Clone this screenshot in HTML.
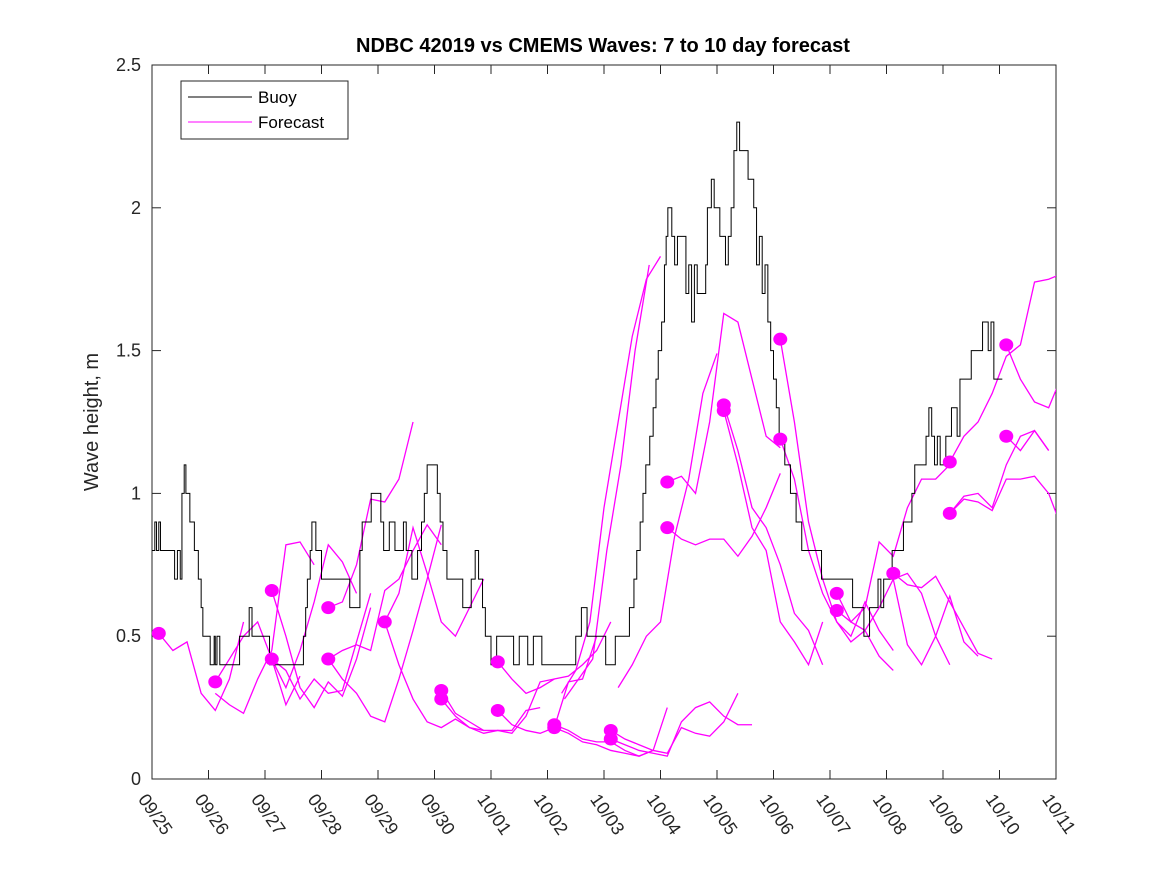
<!DOCTYPE html>
<html><head><meta charset="utf-8"><style>
body{margin:0;background:#fff;}
svg text{font-family:"Liberation Sans",sans-serif;}
</style></head><body>
<svg width="1167" height="875" viewBox="0 0 1167 875">
<defs><clipPath id="pc"><rect x="152" y="65" width="904" height="714"/></clipPath></defs>
<rect x="0" y="0" width="1167" height="875" fill="#fff"/>
<g id="plot"></g>
</svg>
<script>
const dayLabels=["09/25","09/26","09/27","09/28","09/29","09/30","10/01","10/02","10/03","10/04","10/05","10/06","10/07","10/08","10/09","10/10","10/11"];
const yTicks=[0,0.5,1,1.5,2,2.5];
const buoyT=[0,0.05,0.08,0.12,0.15,0.4,0.45,0.5,0.53,0.57,0.6,0.67,0.75,0.82,0.87,0.9,1.03,1.1,1.12,1.15,1.2,1.3,1.55,1.72,1.77,1.8,2.08,2.68,2.72,2.75,2.8,2.83,2.9,2.95,3.0,3.15,3.5,3.68,3.72,3.88,4.05,4.1,4.2,4.3,4.45,4.5,4.6,4.7,4.77,4.82,4.87,4.95,5.05,5.1,5.15,5.22,5.3,5.5,5.65,5.72,5.78,5.85,5.9,6.0,6.1,6.4,6.5,6.65,6.75,6.9,7.0,7.5,7.6,7.7,7.8,8.03,8.2,8.45,8.53,8.58,8.64,8.69,8.74,8.81,8.87,8.92,8.96,9.02,9.07,9.1,9.13,9.2,9.25,9.3,9.45,9.5,9.55,9.6,9.65,9.8,9.83,9.9,9.95,10.05,10.15,10.2,10.25,10.3,10.35,10.4,10.55,10.65,10.7,10.75,10.8,10.85,10.9,10.95,11.0,11.05,11.1,11.2,11.3,11.4,11.5,11.6,11.85,12.15,12.4,12.6,12.7,12.85,12.9,12.95,13.0,13.1,13.3,13.45,13.5,13.7,13.75,13.8,13.85,13.9,13.95,14.05,14.15,14.25,14.3,14.5,14.7,14.8,14.85,14.9,14.95,15.05,15.2];
const buoyV=[0.8,0.9,0.8,0.9,0.8,0.7,0.8,0.7,1.0,1.1,1.0,0.9,0.8,0.7,0.6,0.5,0.4,0.5,0.4,0.5,0.4,0.4,0.5,0.6,0.5,0.5,0.4,0.5,0.6,0.7,0.8,0.9,0.8,0.8,0.7,0.7,0.6,0.8,0.9,1.0,0.9,0.8,0.9,0.8,0.9,0.8,0.7,0.8,0.9,1.0,1.1,1.1,1.0,0.9,0.8,0.7,0.7,0.6,0.7,0.8,0.7,0.6,0.5,0.4,0.5,0.4,0.5,0.4,0.5,0.4,0.4,0.5,0.6,0.5,0.5,0.4,0.5,0.6,0.7,0.8,0.9,1.0,1.1,1.2,1.3,1.4,1.5,1.6,1.8,1.9,2.0,1.9,1.8,1.9,1.7,1.8,1.6,1.8,1.7,1.8,2.0,2.1,2.0,1.9,1.8,1.9,2.0,2.2,2.3,2.2,2.1,2.0,1.8,1.9,1.7,1.8,1.6,1.5,1.4,1.3,1.2,1.1,1.0,0.9,0.8,0.8,0.7,0.7,0.6,0.5,0.6,0.7,0.6,0.7,0.7,0.8,0.9,1.0,1.1,1.2,1.3,1.2,1.1,1.2,1.1,1.2,1.3,1.2,1.4,1.5,1.6,1.5,1.6,1.4,1.4];
const fcStart=[0.12,1.12,1.12,2.12,2.12,2.12,3.12,3.12,3.12,4.12,4.12,5.12,5.12,6.12,6.12,7.12,7.12,7.25,7.3,8.25,8.12,8.12,9.12,9.12,10.12,10.12,11.12,11.12,12.12,12.12,13.12,13.12,14.12,14.12,14.12,15.12,15.12];
const fcVals=[
[0.51,0.45,0.48,0.30,0.24,0.35,0.55],
[0.34,0.42,0.50,0.55,0.42,0.26,0.36],
[0.30,0.26,0.23,0.35,0.45,0.82,0.83,0.75],
[0.66,0.50,0.32,0.25,0.34,0.29,0.42,0.60],
[0.42,0.38,0.28,0.35,0.30,0.31,0.48,0.65],
[0.42,0.32,0.45,0.62,0.82,0.76,0.65],
[0.60,0.62,0.75,0.98,0.97,1.05,1.25],
[0.42,0.45,0.47,0.45,0.66,0.70,0.80,0.89,0.82],
[0.42,0.35,0.30,0.22,0.20,0.35,0.52,0.70,0.89],
[0.55,0.65,0.88,0.72,0.55,0.50,0.60,0.70],
[0.55,0.40,0.28,0.20,0.18,0.21,0.18,0.17],
[0.31,0.23,0.20,0.17,0.17,0.16,0.22,0.34,0.35],
[0.28,0.22,0.18,0.16,0.17,0.17,0.24,0.25],
[0.41,0.35,0.30,0.32,0.35,0.36,0.40,0.45,0.55],
[0.24,0.19,0.17,0.16,0.18,0.34,0.35,0.50],
[0.19,0.17,0.14,0.13,0.13,0.10,0.08,0.10],
[0.18,0.16,0.13,0.12,0.10,0.09,0.08,0.10,0.25],
[0.30,0.38,0.55,0.95,1.25,1.55,1.75,1.83],
[0.28,0.35,0.42,0.80,1.10,1.50,1.80],
[0.32,0.40,0.50,0.55,0.85,1.05,1.35,1.49],
[0.17,0.14,0.12,0.10,0.09,0.18,0.16,0.15,0.20,0.30],
[0.14,0.12,0.10,0.09,0.08,0.20,0.25,0.27,0.22,0.19,0.19],
[1.04,1.06,1.00,1.25,1.63,1.60,1.40,1.20,1.16],
[0.88,0.84,0.82,0.84,0.84,0.78,0.85,0.95,1.07],
[1.31,1.15,0.95,0.88,0.75,0.58,0.52,0.40],
[1.29,1.10,0.88,0.80,0.55,0.48,0.40,0.55],
[1.54,1.25,0.90,0.70,0.55,0.50,0.62,0.52,0.45],
[1.19,1.05,0.80,0.65,0.55,0.48,0.52,0.43,0.38],
[0.65,0.55,0.60,0.83,0.78,0.95,1.05,1.05,1.10],
[0.59,0.55,0.52,0.60,0.70,0.72,0.65,0.50,0.40],
[0.72,0.68,0.67,0.71,0.62,0.53,0.44,0.42],
[0.70,0.47,0.40,0.50,0.64,0.48,0.43],
[1.11,1.20,1.25,1.35,1.48,1.52,1.74,1.75,1.77,1.75],
[0.93,0.98,0.97,0.94,1.05,1.05,1.06,1.00,0.87],
[0.93,0.99,1.00,0.95,1.10,1.20,1.22,1.15],
[1.52,1.40,1.32,1.30,1.42],
[1.20,1.15,1.22,1.15]];
const fcStep=0.25;
const dotDays=[0.12,1.12,2.12,2.12,3.12,3.12,4.12,5.12,5.12,6.12,6.12,7.12,7.12,8.12,8.12,9.12,9.12,10.12,10.12,11.12,11.12,12.12,12.12,13.12,14.12,14.12,15.12,15.12];
const dotVals=[0.51,0.34,0.66,0.42,0.60,0.42,0.55,0.31,0.28,0.41,0.24,0.19,0.18,0.17,0.14,1.04,0.88,1.31,1.29,1.54,1.19,0.65,0.59,0.72,1.11,0.93,1.52,1.20];

const X0=152,X1=1056,Y0=779,Y1=65;
const xs=d=>X0+(X1-X0)*d/16;
const ys=v=>Y0-(Y0-Y1)*v/2.5;
const NS="http://www.w3.org/2000/svg";
const g=document.getElementById('plot');
function mk(tag,at,parent){const e=document.createElementNS(NS,tag);for(const k in at)e.setAttribute(k,at[k]);(parent||g).appendChild(e);return e;}

let r=mk('rect',{x:X0,y:Y1,width:X1-X0,height:Y0-Y1,fill:'#fff',stroke:'#262626','stroke-width':1});



dayLabels.forEach((lab,i)=>{
  const x=xs(i);
  let t=mk('line',{x1:x,y1:Y0,x2:x,y2:Y0-9,stroke:'#262626'});
  
  
  let t2=mk('line',{x1:x,y1:Y1,x2:x,y2:Y1+9,stroke:'#262626'});
  
  
  let tx=mk('text',{x:x-4,y:Y0+13,'font-size':18,fill:'#262626',transform:`rotate(55 ${x-4} ${Y0+13})`,'dominant-baseline':'hanging'});
  tx.textContent=lab;
  
  
});
yTicks.forEach(v=>{
  const y=ys(v);
  let t=mk('line',{x1:X0,y1:y,x2:X0+9,y2:y,stroke:'#262626'});
  
  
  let t2=mk('line',{x1:X1,y1:y,x2:X1-9,y2:y,stroke:'#262626'});
  
  
  let tx=mk('text',{x:X0-11,y:y+6,'font-size':18,fill:'#262626','text-anchor':'end'});
  tx.textContent=String(v);
  
  
});

const cg=mk('g',{'clip-path':'url(#pc)'});


fcStart.forEach((s,i)=>{
  const pts=fcVals[i].map((v,j)=>xs(s+fcStep*j)+','+ys(v)).join(' ');
  let p=mk('polyline',{points:pts,fill:'none',stroke:'#ff00ff','stroke-width':1.3},cg);
  
  
});
let d='';
buoyT.forEach((t,i)=>{
  const x=xs(t),y=ys(buoyV[i]);
  if(i===0)d+=`M${x},${y}`;else d+=`H${x}V${y}`;
});
d+=`H${xs(buoyT[buoyT.length-1]+0.05)}`;
let bp=mk('path',{d:d,fill:'none',stroke:'#000','stroke-width':1},cg);



dotDays.forEach((t,i)=>{
  let c=mk('ellipse',{cx:xs(t),cy:ys(dotVals[i]),rx:7,ry:6.5,fill:'#ff00ff'});
  
  
});

let ti=mk('text',{x:603,y:52,'font-size':20,'font-weight':'bold','text-anchor':'middle',fill:'#000'});
ti.textContent='NDBC 42019 vs CMEMS Waves: 7 to 10 day forecast';


let yl=mk('text',{x:98,y:422,'font-size':20,'text-anchor':'middle',fill:'#262626',transform:'rotate(-90 98 422)'});
yl.textContent='Wave height, m';



let lg=mk('rect',{x:181,y:81,width:167,height:58,fill:'#fff',stroke:'#262626'});


let l1=mk('line',{x1:188,y1:97,x2:252,y2:97,stroke:'#000'});


let lt1=mk('text',{x:258,y:103,'font-size':17,fill:'#000'});lt1.textContent='Buoy';


let l2=mk('line',{x1:188,y1:122,x2:252,y2:122,stroke:'#ff00ff'});


let lt2=mk('text',{x:258,y:128,'font-size':17,fill:'#000'});lt2.textContent='Forecast';


</script>
</body></html>
